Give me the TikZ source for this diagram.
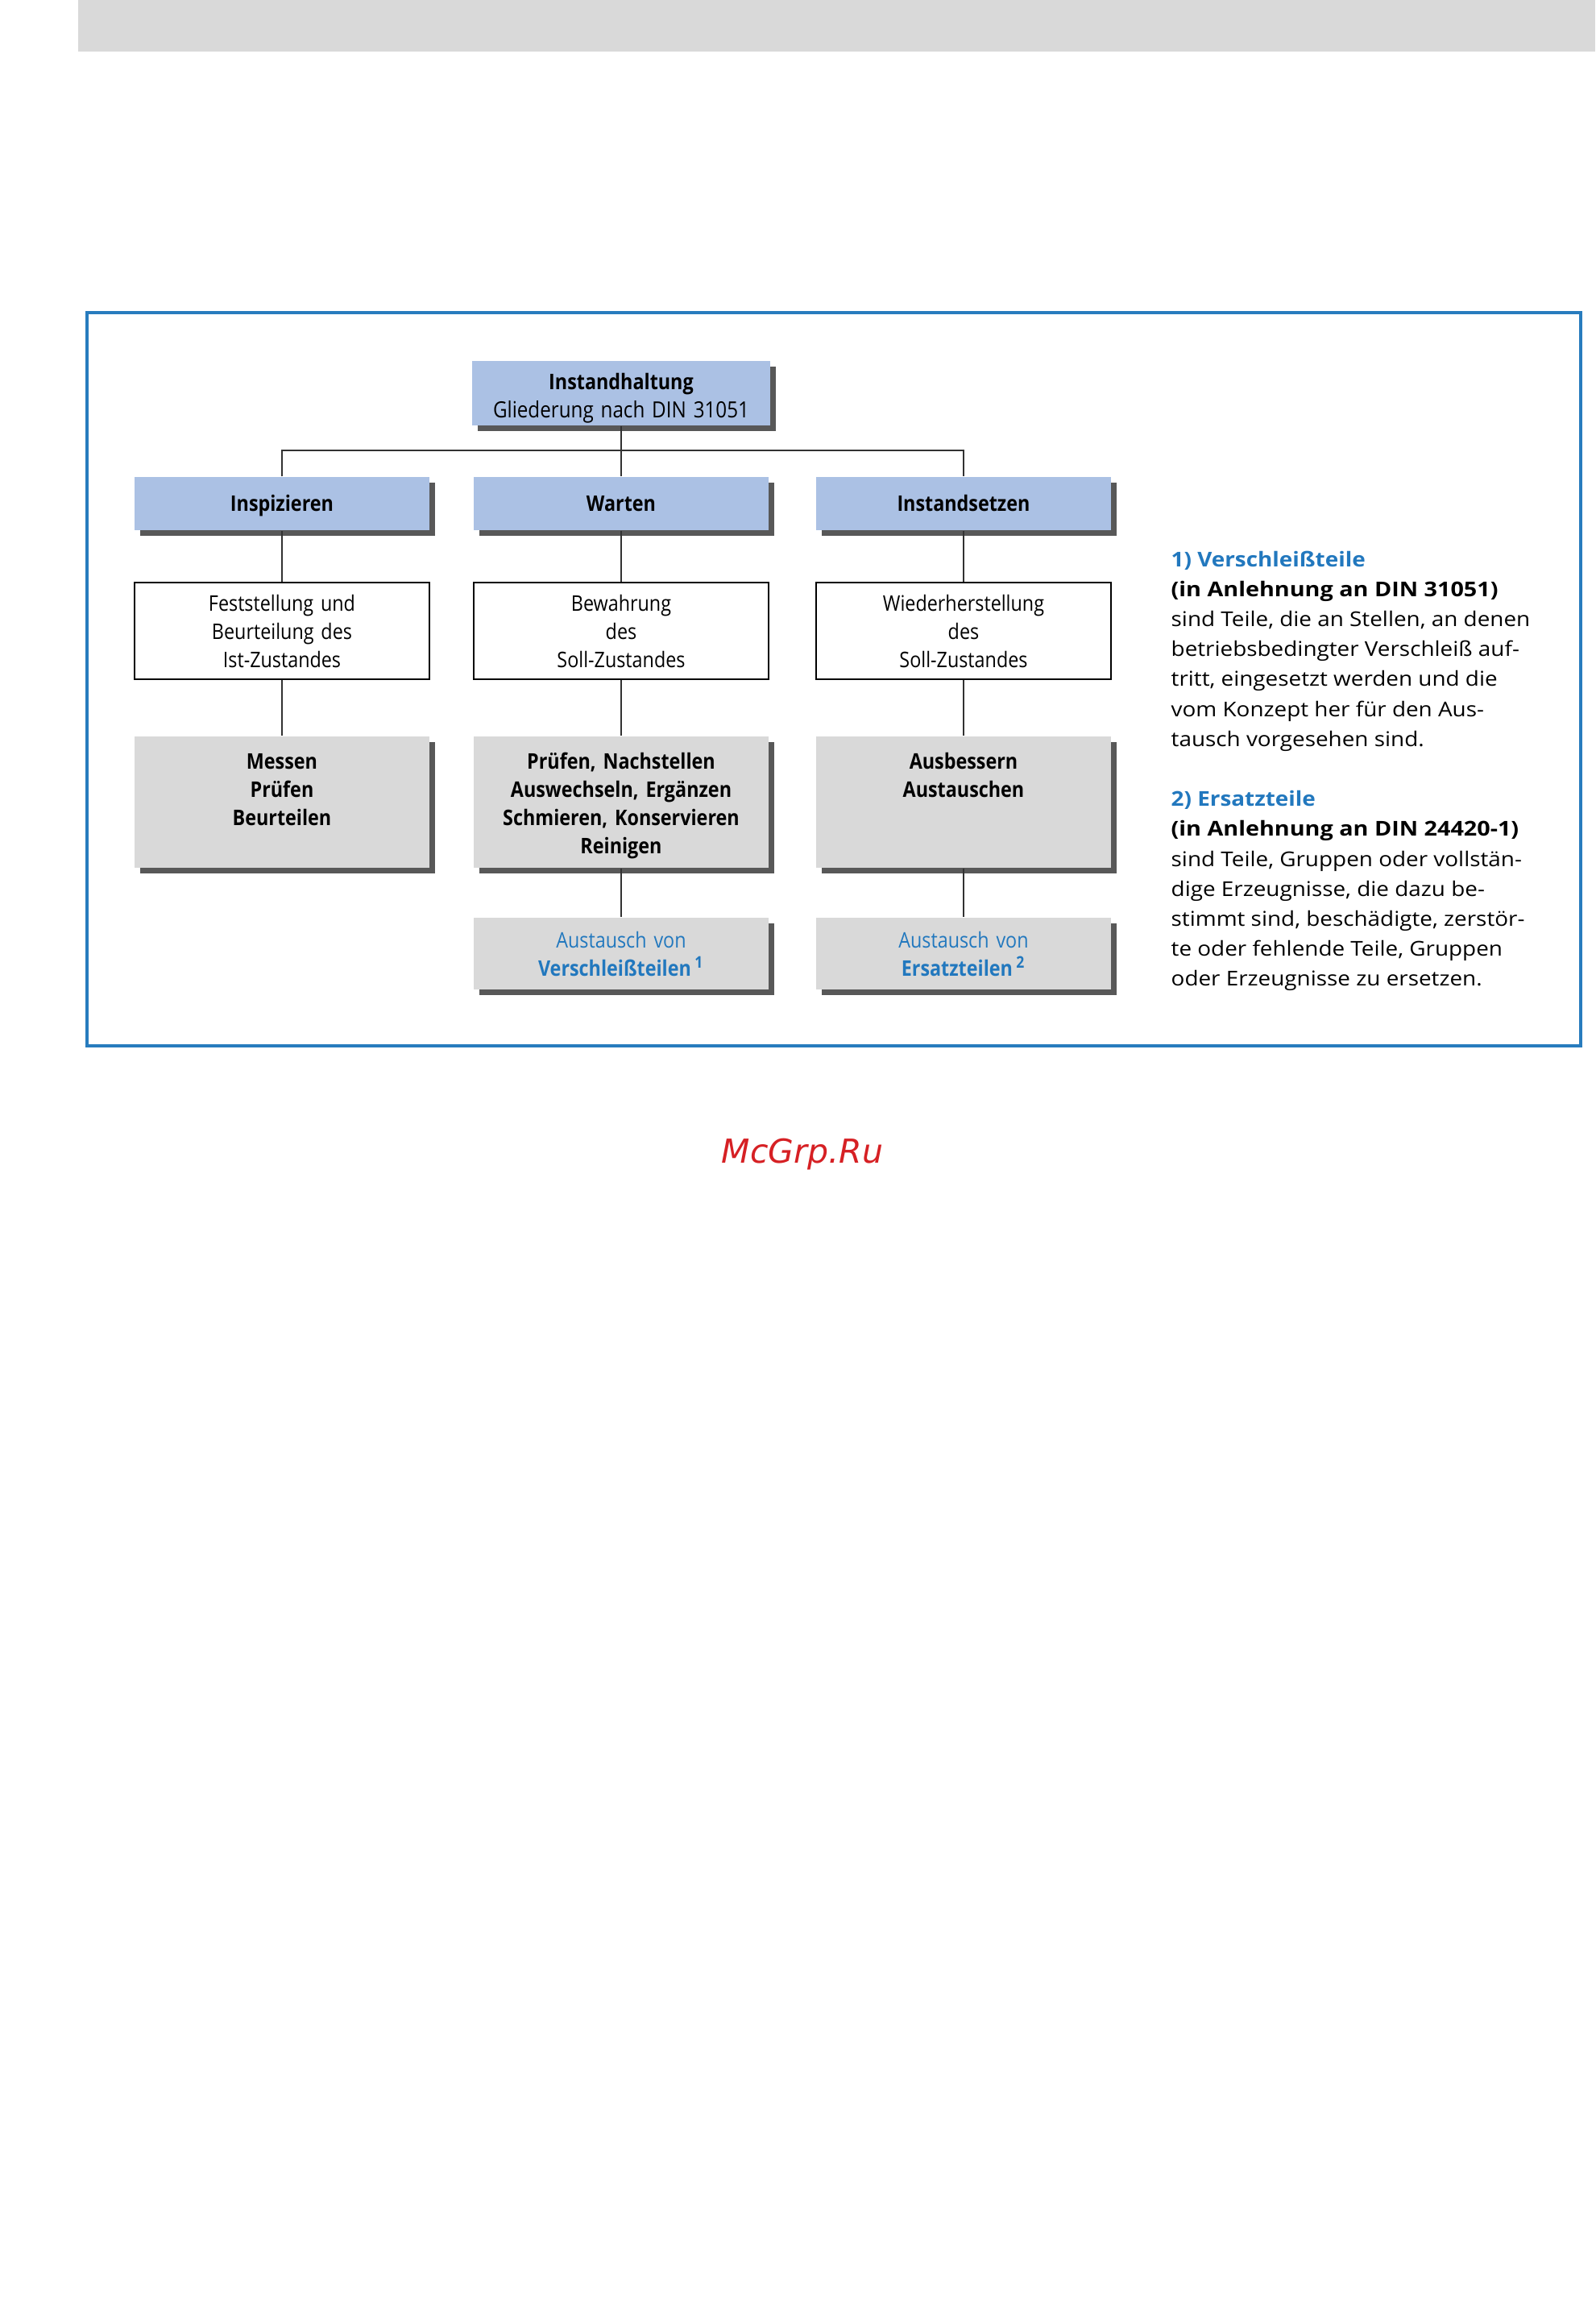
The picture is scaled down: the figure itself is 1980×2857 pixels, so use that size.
\documentclass[tikz,border=0pt]{standalone}
\usepackage{fontspec}
\setmainfont[FakeStretch=1.1]{Open Sans}
\newfontfamily\dgfont[FakeStretch=0.875]{Open Sans}
\newfontfamily\nbfont[FakeStretch=1.135]{Open Sans}
\newfontfamily\wmfont{DejaVu Sans}
\usetikzlibrary{shadows}
\definecolor{boxblue}{RGB}{171,193,228}
\definecolor{boxgray}{RGB}{217,217,217}
\definecolor{bandgray}{RGB}{217,217,217}
\definecolor{shadowgray}{RGB}{88,88,88}
\definecolor{framecol}{RGB}{40,124,190}
\definecolor{txtblue}{RGB}{34,120,190}
\definecolor{linecol}{RGB}{50,50,50}
\definecolor{wmred}{RGB}{214,32,36}
\tikzset{
  dgtext/.style={font=\dgfont\fontsize{8}{10.5}\selectfont, align=center, inner sep=0pt, text width=109.8pt},
  shad/.style={drop shadow={shadow xshift=2.1pt, shadow yshift=-2.1pt, fill=shadowgray, opacity=1}},
  topbox/.style={dgtext, rectangle, fill=boxblue, shad, text width=111pt, text height=10.5pt, text depth=13.5pt},
  headbox/.style={dgtext, rectangle, fill=boxblue, shad, text height=12.6pt, text depth=7.2pt, font=\dgfont\bfseries\fontsize{8}{10.5}\selectfont},
  whitebox/.style={dgtext, rectangle, draw=black, line width=0.6pt, fill=white, text height=10.5pt, text depth=25.5pt},
  actbox/.style={dgtext, rectangle, fill=boxgray, shad, text height=12pt, text depth=36.9pt, font=\dgfont\bfseries\fontsize{8}{10.5}\selectfont},
  swapbox/.style={dgtext, rectangle, fill=boxgray, shad, text height=11.1pt, text depth=15.6pt, text=txtblue},
  conn/.style={draw=linecol, line width=0.6pt},
  note/.style={font=\fontsize{7.6}{11}\selectfont, anchor=base west, inner sep=0pt},
  notehead/.style={note, font=\bfseries\fontsize{7.6}{11}\selectfont, text=txtblue},
  notebold/.style={note, font=\nbfont\bfseries\fontsize{7.6}{11}\selectfont}
}
\begin{document}
\begin{tikzpicture}[x=0.3pt,y=-0.3pt]
\useasboundingbox (0,0) rectangle (1980,2857);
\fill[white] (0,0) rectangle (1980,2857);
\fill[bandgray] (97,0) rectangle (1980,64);
\draw[framecol, line width=1.2pt] (108,388) rectangle (1962,1298);

% boxes
\node[topbox] (top) at (771,488) {\textbf{Instandhaltung}\\\fontsize{8.3}{10.5}\selectfont Gliederung nach DIN 31051};

\node[headbox] (insp) at (350,625) {Inspizieren};
\node[headbox] (wart) at (771,625) {Warten};
\node[headbox] (inst) at (1196,625) {Instandsetzen};

\node[whitebox] (fest) at (350,783) {Feststellung und\\Beurteilung des\\Ist-Zustandes};
\node[whitebox] (bew) at (771,783) {Bewahrung\\des\\Soll-Zustandes};
\node[whitebox] (wied) at (1196,783) {Wiederherstellung\\des\\Soll-Zustandes};

\node[actbox] (mess) at (350,995.5) {Messen\\Prüfen\\Beurteilen};
\node[actbox] (pruef) at (771,995.5) {Prüfen, Nachstellen\\Auswechseln, Ergänzen\\Schmieren, Konservieren\\Reinigen};
\node[actbox] (ausb) at (1196,995.5) {Ausbessern\\Austauschen};

\node[swapbox] (aus1) at (771,1183.5) {Austausch von\\\textbf{Verschleißteilen\,\textsuperscript{1}}};
\node[swapbox] (aus2) at (1196,1183.5) {Austausch von\\\textbf{Ersatzteilen\,\textsuperscript{2}}};

% connectors
\coordinate (bar) at (771,559);
\draw[conn] (top.south) -- (top.south |- bar);
\draw[conn] (insp.north) -- (insp.north |- bar) -| (inst.north);
\draw[conn] (wart.north) -- (wart.north |- bar);
\draw[conn] (insp.south) -- (fest.north);
\draw[conn] (fest.south) -- (mess.north);
\draw[conn] (wart.south) -- (bew.north);
\draw[conn] (bew.south) -- (pruef.north);
\draw[conn] (pruef.south) -- (aus1.north);
\draw[conn] (inst.south) -- (wied.north);
\draw[conn] (wied.south) -- (ausb.north);
\draw[conn] (ausb.south) -- (aus2.north);

% notes
\node[notehead] (n1) at (1453,703) {1) Verschleißteile};
\node[notebold] (n2) at (1453,740.2) {(in Anlehnung an DIN 31051)};
\node[note] (n3) at (1453,777.4) {sind Teile, die an Stellen, an denen};
\node[note] (n4) at (1453,814.6) {betriebsbedingter Verschleiß auf-};
\node[note] (n5) at (1453,851.8) {tritt, eingesetzt werden und die};
\node[note] (n6) at (1453,889) {vom Konzept her für den Aus-};
\node[note] (n7) at (1453,926.2) {tausch vorgesehen sind.};
\node[notehead] (m1) at (1453,1000.6) {2) Ersatzteile};
\node[notebold] (m2) at (1453,1037.8) {(in Anlehnung an DIN 24420-1)};
\node[note] (m3) at (1453,1075) {sind Teile, Gruppen oder vollstän-};
\node[note] (m4) at (1453,1112.2) {dige Erzeugnisse, die dazu be-};
\node[note] (m5) at (1453,1149.4) {stimmt sind, beschädigte, zerstör-};
\node[note] (m6) at (1453,1186.6) {te oder fehlende Teile, Gruppen};
\node[note] (m7) at (1453,1223.8) {oder Erzeugnisse zu ersetzen.};

% watermark
\node[font=\wmfont\itshape\fontsize{12.3}{14}\selectfont, text=wmred, anchor=base, inner sep=0pt] (wm) at (996,1443) {McGrp.Ru};
\end{tikzpicture}
\end{document}
